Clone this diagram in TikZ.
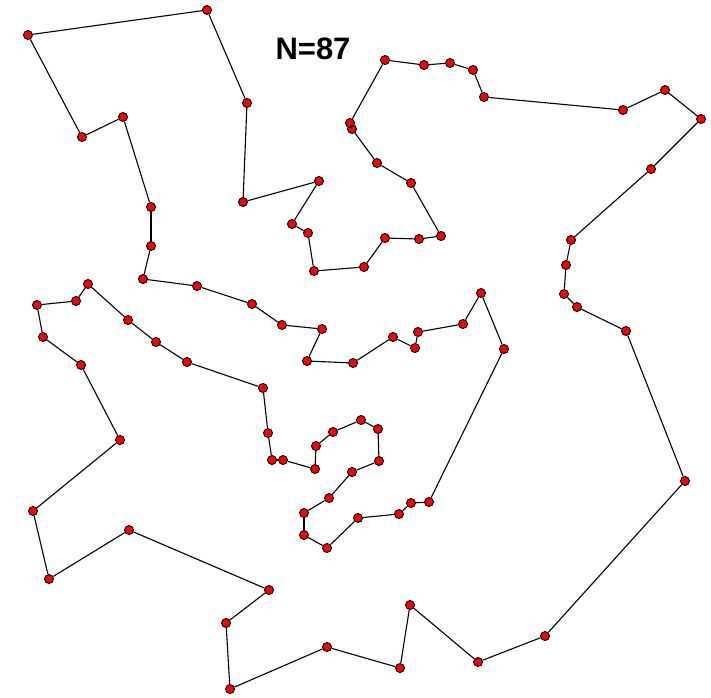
\documentclass[tikz,border=0pt]{standalone}
\usepackage{fontspec}
\newfontfamily\tspfont{Liberation Sans}

\tikzset{
  tspcity/.style={circle, draw, line width=0.9pt, fill=red, inner sep=0pt, minimum size=9pt},
  tspedge/.style={line width=1.1pt, black},
  tsplab/.style={font=\tspfont\bfseries\fontsize{31}{31}\selectfont}
}

\begin{document}
\begin{tikzpicture}[x=1pt,y=-1pt]
        \useasboundingbox (0,0) rectangle (711,697);

        \foreach \x/\y [count=\i] in {28/35,207/10,247/103,243/202,319/181,292/224,308/233,314/271,364/267,385/238,
                                      419/239,441/236,411/183,377/163,352/129,350/123,385/60,424/65,450/63,473/70,
                                      484/97,623/110,665/90,701/119,651/169,571/240,566/265,564/294,577/307,626/331,
                                      685/481,545/636,478/662,410/605,400/668,327/647,230/689,226/623,269/590,129/530,
                                      49/579,33/511,120/440,81/365,43/337,37/305,76/301,88/284,128/320,156/342,
                                      187/362,263/388,268/433,272/460,283/460,315/469,316/446,333/432,361/420,378/429,
                                      379/461,352/472,329/498,304/513,304/535,327/548,358/518,399/514,411/503,429/502,
                                      504/349,481/293,463/324,418/332,415/348,393/337,353/363,307/361,322/329,282/325,
                                      252/304,197/286,143/279,151/246,151/207,123/117,82/137} {
            \node[tspcity] (c\i) at (\x,\y) {};
        }

        \foreach \i [evaluate=\i as \j using {int(mod(\i,87)+1)}] in {1,...,87} {
            \draw[tspedge] (c\i) -- (c\j);
        }

        \node[tsplab] (title) at (313,49) {N=87};
    \end{tikzpicture}
\end{document}
